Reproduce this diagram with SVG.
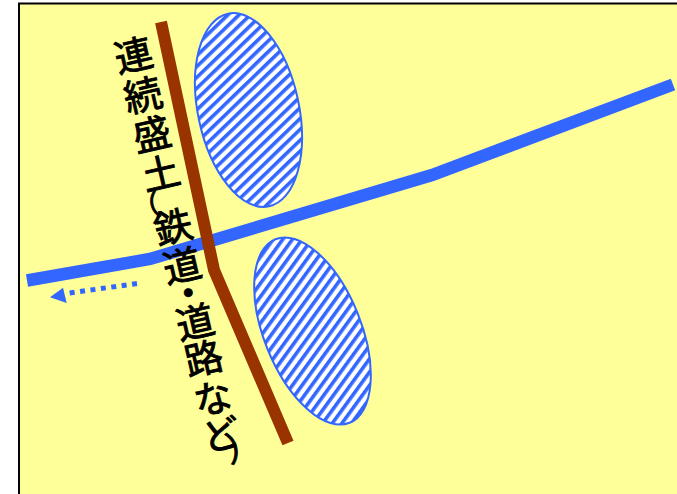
<svg xmlns="http://www.w3.org/2000/svg" width="677" height="494" viewBox="0 0 677 494">
<defs>
<style>
.river{fill:none;stroke:#3366FF;stroke-width:12.5;stroke-linejoin:miter;}
.bank{fill:none;stroke:#993300;stroke-width:12;stroke-linejoin:miter;}
.area{fill:url(#hatch);stroke:#3366FF;stroke-width:2;}
.lbl{font-family:"Noto Sans CJK JP","Noto Sans",sans-serif;font-size:38px;font-weight:normal;fill:#000;stroke:#000;stroke-width:0.9;text-anchor:middle;dominant-baseline:central;}
.par{font-size:28px;}
.par2{font-size:34px;}
</style>
<pattern id="hatch" patternUnits="userSpaceOnUse" width="7.8" height="20" patternTransform="rotate(58)">
<rect width="7.8" height="20" fill="#FFFFFF"/>
<rect width="3.6" height="20" fill="#3366FF"/>
</pattern>
</defs>
<rect x="19" y="3.5" width="670" height="500" fill="#FFFF99" stroke="#000" stroke-width="2"/>
<g id="area-upper"><ellipse class="area" cx="248.5" cy="110" rx="50.5" ry="98.5" transform="rotate(-12 248.5 110)"/></g>
<g id="area-lower"><ellipse class="area" cx="312.5" cy="331" rx="48.5" ry="99" transform="rotate(-22 312.5 331)"/></g>
<g id="connectors">
<polyline id="river" class="river" points="27,280.5 150,259 432,175 673,84.5"/>
<polyline id="embankment" class="bank" points="161,22 214,270 288,443"/>
<g id="flow-arrow">
<line x1="137" y1="283.5" x2="66" y2="293.5" stroke="#3366FF" stroke-width="5" stroke-dasharray="5 5.5"/>
<polygon points="50,297.3 63,287.7 66.7,303" fill="#3366FF"/>
</g>
</g>
<g id="label" transform="translate(133,53) rotate(-13)">
<text class="lbl" x="0" y="0">連</text>
<text class="lbl" x="0" y="41">続</text>
<text class="lbl" x="0" y="81">盛</text>
<text class="lbl" x="0" y="121">土</text>
<text class="lbl par" x="-22" y="151">（</text>
<text class="lbl" x="0" y="176">鉄</text>
<text class="lbl" x="0" y="216">道</text>
<text class="lbl" x="0" y="244">・</text>
<text class="lbl" x="0" y="274">道</text>
<text class="lbl" x="0" y="311">路</text>
<text class="lbl" x="0" y="352">な</text>
<text class="lbl" x="0" y="389">ど</text>
<text class="lbl par2" x="19" y="406">）</text>
</g>
</svg>
